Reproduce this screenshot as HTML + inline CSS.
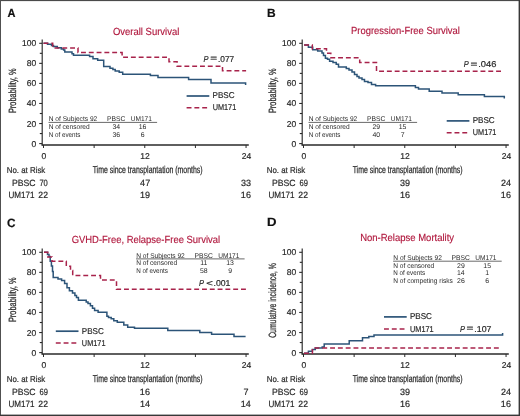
<!DOCTYPE html><html><head><meta charset="utf-8"><style>html,body{margin:0;padding:0;background:#fff}svg{display:block;filter:blur(0.3px)}text{font-family:"Liberation Sans",sans-serif;text-rendering:geometricPrecision}</style></head><body><svg width="520" height="416" viewBox="0 0 520 416" font-family="Liberation Sans, sans-serif">
<rect x="0" y="0" width="520" height="416" fill="#fff"/>
<text transform="translate(7.42 17.40) scale(0.9204 1)" font-size="12" fill="#111" font-weight="bold" stroke="#111" stroke-width="0.2">A</text>
<line x1="42.20" y1="39.60" x2="42.20" y2="145.60" stroke="#2a2a2a" stroke-width="1.15"/>
<line x1="41.60" y1="145.00" x2="248.80" y2="145.00" stroke="#2a2a2a" stroke-width="1.6"/>
<line x1="39.20" y1="143.60" x2="42.20" y2="143.60" stroke="#2a2a2a" stroke-width="1.1"/>
<line x1="39.80" y1="133.57" x2="42.20" y2="133.57" stroke="#2a2a2a" stroke-width="1.1"/>
<line x1="39.20" y1="123.54" x2="42.20" y2="123.54" stroke="#2a2a2a" stroke-width="1.1"/>
<line x1="39.80" y1="113.51" x2="42.20" y2="113.51" stroke="#2a2a2a" stroke-width="1.1"/>
<line x1="39.20" y1="103.48" x2="42.20" y2="103.48" stroke="#2a2a2a" stroke-width="1.1"/>
<line x1="39.80" y1="93.45" x2="42.20" y2="93.45" stroke="#2a2a2a" stroke-width="1.1"/>
<line x1="39.20" y1="83.42" x2="42.20" y2="83.42" stroke="#2a2a2a" stroke-width="1.1"/>
<line x1="39.80" y1="73.39" x2="42.20" y2="73.39" stroke="#2a2a2a" stroke-width="1.1"/>
<line x1="39.20" y1="63.36" x2="42.20" y2="63.36" stroke="#2a2a2a" stroke-width="1.1"/>
<line x1="39.80" y1="53.33" x2="42.20" y2="53.33" stroke="#2a2a2a" stroke-width="1.1"/>
<line x1="39.20" y1="43.30" x2="42.20" y2="43.30" stroke="#2a2a2a" stroke-width="1.1"/>
<line x1="43.50" y1="145.00" x2="43.50" y2="148.00" stroke="#2a2a2a" stroke-width="1.0"/>
<line x1="94.14" y1="145.00" x2="94.14" y2="148.00" stroke="#2a2a2a" stroke-width="1.0"/>
<line x1="144.78" y1="145.00" x2="144.78" y2="148.00" stroke="#2a2a2a" stroke-width="1.0"/>
<line x1="195.42" y1="145.00" x2="195.42" y2="148.00" stroke="#2a2a2a" stroke-width="1.0"/>
<line x1="246.06" y1="145.00" x2="246.06" y2="148.00" stroke="#2a2a2a" stroke-width="1.0"/>
<text transform="translate(31.42 146.60) scale(1.0000 1)" font-size="8.5" fill="#2a2a2a" stroke="#2a2a2a" stroke-width="0.2">0</text>
<text transform="translate(26.70 126.54) scale(1.0000 1)" font-size="8.5" fill="#2a2a2a" stroke="#2a2a2a" stroke-width="0.2">20</text>
<text transform="translate(26.70 106.48) scale(1.0000 1)" font-size="8.5" fill="#2a2a2a" stroke="#2a2a2a" stroke-width="0.2">40</text>
<text transform="translate(26.70 86.42) scale(1.0000 1)" font-size="8.5" fill="#2a2a2a" stroke="#2a2a2a" stroke-width="0.2">60</text>
<text transform="translate(26.70 66.36) scale(1.0000 1)" font-size="8.5" fill="#2a2a2a" stroke="#2a2a2a" stroke-width="0.2">80</text>
<text transform="translate(21.99 46.30) scale(1.0000 1)" font-size="8.5" fill="#2a2a2a" stroke="#2a2a2a" stroke-width="0.2">100</text>
<text transform="translate(41.54 158.60) scale(1.0000 1)" font-size="8.5" fill="#2a2a2a" stroke="#2a2a2a" stroke-width="0.2">0</text>
<text transform="translate(140.36 158.60) scale(1.0000 1)" font-size="8.5" fill="#2a2a2a" stroke="#2a2a2a" stroke-width="0.2">12</text>
<text transform="translate(241.66 158.60) scale(1.0000 1)" font-size="8.5" fill="#2a2a2a" stroke="#2a2a2a" stroke-width="0.2">24</text>
<text transform="translate(92.63 172.80) scale(0.6937 1)" font-size="10" fill="#2a2a2a" stroke="#2a2a2a" stroke-width="0.25">Time since transplantation (months)</text>
<text transform="translate(6.77 173.00) scale(0.9270 1)" font-size="8.5" fill="#2a2a2a" stroke="#2a2a2a" stroke-width="0.2">No. at Risk</text>
<text transform="translate(15.60 113.09) rotate(-90) scale(0.7040 1)" font-size="10.5" fill="#2a2a2a" stroke="#2a2a2a" stroke-width="0.25">Probability, %</text>
<text transform="translate(112.97 34.50) scale(0.9201 1)" font-size="10.3" fill="#b0173d" stroke="#b0173d" stroke-width="0.15">Overall Survival</text>
<text transform="translate(11.90 185.60) scale(0.9658 1)" font-size="9" fill="#2a2a2a" stroke="#2a2a2a" stroke-width="0.2">PBSC</text>
<text transform="translate(39.42 185.60) scale(0.8388 1)" font-size="9" fill="#2a2a2a" stroke="#2a2a2a" stroke-width="0.2">70</text>
<text transform="translate(8.49 198.00) scale(0.8996 1)" font-size="9" fill="#2a2a2a" stroke="#2a2a2a" stroke-width="0.2">UM171</text>
<text transform="translate(38.37 198.00) scale(0.9571 1)" font-size="9" fill="#2a2a2a" stroke="#2a2a2a" stroke-width="0.2">22</text>
<text transform="translate(140.12 185.60) scale(1.0000 1)" font-size="9" fill="#2a2a2a" stroke="#2a2a2a" stroke-width="0.2">47</text>
<text transform="translate(140.07 198.00) scale(1.0000 1)" font-size="9" fill="#2a2a2a" stroke="#2a2a2a" stroke-width="0.2">19</text>
<text transform="translate(241.03 185.60) scale(1.0000 1)" font-size="9" fill="#2a2a2a" stroke="#2a2a2a" stroke-width="0.2">33</text>
<text transform="translate(240.87 198.00) scale(1.0000 1)" font-size="9" fill="#2a2a2a" stroke="#2a2a2a" stroke-width="0.2">16</text>
<line x1="186.60" y1="96.00" x2="209.30" y2="96.00" stroke="#2c5478" stroke-width="1.7"/>
<line x1="186.60" y1="107.70" x2="209.30" y2="107.70" stroke="#a8234b" stroke-width="1.5" stroke-dasharray="4.9 2.9"/>
<text transform="translate(212.55 98.30) scale(0.9502 1)" font-size="8.5" fill="#2a2a2a" stroke="#2a2a2a" stroke-width="0.2">PBSC</text>
<text transform="translate(212.65 110.10) scale(0.8615 1)" font-size="8.5" fill="#2a2a2a" stroke="#2a2a2a" stroke-width="0.2">UM171</text>
<path d="M43.5,43.3 H47.5 V44.3 H51.5 V45.5 H53.5 V46.6 H57.3 V47.8 H61.3 V49.0 H63.6 V50.1 H64.8 V52.0 H72.0 V53.8 H73.5 V55.2 H89.6 V56.5 H93.0 V58.8 H97.7 V60.2 H103.7 V66.5 H110.0 V68.2 H112.9 V69.6 H115.2 V70.9 H119.2 V72.3 H122.7 V74.2 H150.4 V75.6 H158.0 V77.4 H188.6 V79.4 H211.0 V83.0 H245.6 H245.6 V85.0" fill="none" stroke="#2c5478" stroke-width="1.5"/>
<path d="M43.5,43.3 H52.7 V47.9 H78.0 V52.6 H122.1 V57.3 H169.0 V61.7 H177.1 V66.2 H222.5 V70.8 H246.1" fill="none" stroke="#a8234b" stroke-width="1.5" stroke-dasharray="4.9 2.9"/>
<text transform="translate(203.58 61.60) scale(0.8777 1)" font-size="8.5" fill="#2a2a2a" font-style="italic" stroke="#2a2a2a" stroke-width="0.2">P</text>
<text transform="translate(210.21 61.30) scale(1.3827 1)" font-size="8.5" fill="#2a2a2a" stroke="#2a2a2a" stroke-width="0.2">=</text>
<text transform="translate(218.05 61.60) scale(0.9777 1)" font-size="8.5" fill="#2a2a2a" stroke="#2a2a2a" stroke-width="0.2">.077</text>
<text transform="translate(48.67 121.00) scale(0.9615 1)" font-size="6.9" fill="#2a2a2a">N of Subjects 92</text>
<text transform="translate(106.96 121.00) scale(0.9810 1)" font-size="6.9" fill="#2a2a2a">PBSC</text>
<text transform="translate(130.71 121.00) scale(0.9537 1)" font-size="6.9" fill="#2a2a2a">UM171</text>
<line x1="48.50" y1="122.40" x2="157.10" y2="122.40" stroke="#2a2a2a" stroke-width="0.7"/>
<text transform="translate(48.67 128.80) scale(0.9559 1)" font-size="6.9" fill="#2a2a2a">N of censored</text>
<text transform="translate(112.44 128.80) scale(1.0000 1)" font-size="6.9" fill="#2a2a2a">34</text>
<text transform="translate(138.77 128.80) scale(1.0000 1)" font-size="6.9" fill="#2a2a2a">16</text>
<text transform="translate(48.70 136.60) scale(0.9115 1)" font-size="6.9" fill="#2a2a2a">N of events</text>
<text transform="translate(112.49 136.60) scale(1.0000 1)" font-size="6.9" fill="#2a2a2a">36</text>
<text transform="translate(140.77 136.60) scale(1.0000 1)" font-size="6.9" fill="#2a2a2a">6</text>
<text transform="translate(267.12 17.40) scale(0.9973 1)" font-size="12" fill="#111" font-weight="bold" stroke="#111" stroke-width="0.2">B</text>
<line x1="302.20" y1="39.60" x2="302.20" y2="145.60" stroke="#2a2a2a" stroke-width="1.15"/>
<line x1="301.60" y1="145.00" x2="508.80" y2="145.00" stroke="#2a2a2a" stroke-width="1.6"/>
<line x1="299.20" y1="143.60" x2="302.20" y2="143.60" stroke="#2a2a2a" stroke-width="1.1"/>
<line x1="299.80" y1="133.57" x2="302.20" y2="133.57" stroke="#2a2a2a" stroke-width="1.1"/>
<line x1="299.20" y1="123.54" x2="302.20" y2="123.54" stroke="#2a2a2a" stroke-width="1.1"/>
<line x1="299.80" y1="113.51" x2="302.20" y2="113.51" stroke="#2a2a2a" stroke-width="1.1"/>
<line x1="299.20" y1="103.48" x2="302.20" y2="103.48" stroke="#2a2a2a" stroke-width="1.1"/>
<line x1="299.80" y1="93.45" x2="302.20" y2="93.45" stroke="#2a2a2a" stroke-width="1.1"/>
<line x1="299.20" y1="83.42" x2="302.20" y2="83.42" stroke="#2a2a2a" stroke-width="1.1"/>
<line x1="299.80" y1="73.39" x2="302.20" y2="73.39" stroke="#2a2a2a" stroke-width="1.1"/>
<line x1="299.20" y1="63.36" x2="302.20" y2="63.36" stroke="#2a2a2a" stroke-width="1.1"/>
<line x1="299.80" y1="53.33" x2="302.20" y2="53.33" stroke="#2a2a2a" stroke-width="1.1"/>
<line x1="299.20" y1="43.30" x2="302.20" y2="43.30" stroke="#2a2a2a" stroke-width="1.1"/>
<line x1="303.50" y1="145.00" x2="303.50" y2="148.00" stroke="#2a2a2a" stroke-width="1.0"/>
<line x1="354.14" y1="145.00" x2="354.14" y2="148.00" stroke="#2a2a2a" stroke-width="1.0"/>
<line x1="404.78" y1="145.00" x2="404.78" y2="148.00" stroke="#2a2a2a" stroke-width="1.0"/>
<line x1="455.42" y1="145.00" x2="455.42" y2="148.00" stroke="#2a2a2a" stroke-width="1.0"/>
<line x1="506.06" y1="145.00" x2="506.06" y2="148.00" stroke="#2a2a2a" stroke-width="1.0"/>
<text transform="translate(291.42 146.60) scale(1.0000 1)" font-size="8.5" fill="#2a2a2a" stroke="#2a2a2a" stroke-width="0.2">0</text>
<text transform="translate(286.70 126.54) scale(1.0000 1)" font-size="8.5" fill="#2a2a2a" stroke="#2a2a2a" stroke-width="0.2">20</text>
<text transform="translate(286.71 106.48) scale(1.0000 1)" font-size="8.5" fill="#2a2a2a" stroke="#2a2a2a" stroke-width="0.2">40</text>
<text transform="translate(286.70 86.42) scale(1.0000 1)" font-size="8.5" fill="#2a2a2a" stroke="#2a2a2a" stroke-width="0.2">60</text>
<text transform="translate(286.71 66.36) scale(1.0000 1)" font-size="8.5" fill="#2a2a2a" stroke="#2a2a2a" stroke-width="0.2">80</text>
<text transform="translate(281.99 46.30) scale(1.0000 1)" font-size="8.5" fill="#2a2a2a" stroke="#2a2a2a" stroke-width="0.2">100</text>
<text transform="translate(301.54 158.60) scale(1.0000 1)" font-size="8.5" fill="#2a2a2a" stroke="#2a2a2a" stroke-width="0.2">0</text>
<text transform="translate(400.36 158.60) scale(1.0000 1)" font-size="8.5" fill="#2a2a2a" stroke="#2a2a2a" stroke-width="0.2">12</text>
<text transform="translate(501.66 158.60) scale(1.0000 1)" font-size="8.5" fill="#2a2a2a" stroke="#2a2a2a" stroke-width="0.2">24</text>
<text transform="translate(352.63 172.80) scale(0.6937 1)" font-size="10" fill="#2a2a2a" stroke="#2a2a2a" stroke-width="0.25">Time since transplantation (months)</text>
<text transform="translate(266.77 173.00) scale(0.9270 1)" font-size="8.5" fill="#2a2a2a" stroke="#2a2a2a" stroke-width="0.2">No. at Risk</text>
<text transform="translate(275.60 113.09) rotate(-90) scale(0.7040 1)" font-size="10.5" fill="#2a2a2a" stroke="#2a2a2a" stroke-width="0.25">Probability, %</text>
<text transform="translate(351.05 34.40) scale(0.9143 1)" font-size="10.3" fill="#b0173d" stroke="#b0173d" stroke-width="0.15">Progression-Free Survival</text>
<text transform="translate(271.90 185.60) scale(0.9658 1)" font-size="9" fill="#2a2a2a" stroke="#2a2a2a" stroke-width="0.2">PBSC</text>
<text transform="translate(299.42 185.60) scale(0.8429 1)" font-size="9" fill="#2a2a2a" stroke="#2a2a2a" stroke-width="0.2">69</text>
<text transform="translate(268.49 198.00) scale(0.8996 1)" font-size="9" fill="#2a2a2a" stroke="#2a2a2a" stroke-width="0.2">UM171</text>
<text transform="translate(298.37 198.00) scale(0.9571 1)" font-size="9" fill="#2a2a2a" stroke="#2a2a2a" stroke-width="0.2">22</text>
<text transform="translate(400.03 185.60) scale(1.0000 1)" font-size="9" fill="#2a2a2a" stroke="#2a2a2a" stroke-width="0.2">39</text>
<text transform="translate(400.07 198.00) scale(1.0000 1)" font-size="9" fill="#2a2a2a" stroke="#2a2a2a" stroke-width="0.2">16</text>
<text transform="translate(500.92 185.60) scale(1.0000 1)" font-size="9" fill="#2a2a2a" stroke="#2a2a2a" stroke-width="0.2">24</text>
<text transform="translate(500.87 198.00) scale(1.0000 1)" font-size="9" fill="#2a2a2a" stroke="#2a2a2a" stroke-width="0.2">16</text>
<line x1="446.70" y1="120.90" x2="469.40" y2="120.90" stroke="#2c5478" stroke-width="1.7"/>
<line x1="446.70" y1="132.80" x2="469.40" y2="132.80" stroke="#a8234b" stroke-width="1.5" stroke-dasharray="4.9 2.9"/>
<text transform="translate(472.65 123.20) scale(0.9502 1)" font-size="8.5" fill="#2a2a2a" stroke="#2a2a2a" stroke-width="0.2">PBSC</text>
<text transform="translate(472.75 135.20) scale(0.8615 1)" font-size="8.5" fill="#2a2a2a" stroke="#2a2a2a" stroke-width="0.2">UM171</text>
<path d="M304.1,44.9 H308.4 V47.2 H312.7 V49.8 H317.7 V51.1 H322.0 V53.0 H323.5 V55.5 H325.4 V58.2 H327.5 V59.3 H329.6 V61.3 H333.0 V62.5 H336.2 V64.2 H338.5 V67.0 H346.3 V68.6 H349.0 V70.0 H352.0 V72.0 H354.5 V74.5 H357.0 V76.5 H359.0 V78.0 H362.0 V79.5 H364.5 V81.5 H368.0 V82.5 H371.5 V84.5 H375.6 V85.8 H415.4 V87.5 H418.5 V88.9 H429.2 V91.3 H442.0 V93.0 H458.2 V94.8 H484.4 V96.4 H504.3 H504.3 V98.6" fill="none" stroke="#2c5478" stroke-width="1.5"/>
<path d="M304.1,44.9 H312.3 V48.7 H326.5 V53.2 H330.8 V57.7 H359.7 V62.4 H376.5 V71.3 H503.9" fill="none" stroke="#a8234b" stroke-width="1.5" stroke-dasharray="4.9 2.9"/>
<text transform="translate(463.78 67.00) scale(0.8777 1)" font-size="8.5" fill="#2a2a2a" font-style="italic" stroke="#2a2a2a" stroke-width="0.2">P</text>
<text transform="translate(470.41 66.70) scale(1.3827 1)" font-size="8.5" fill="#2a2a2a" stroke="#2a2a2a" stroke-width="0.2">=</text>
<text transform="translate(478.16 67.00) scale(1.0985 1)" font-size="8.5" fill="#2a2a2a" stroke="#2a2a2a" stroke-width="0.2">.046</text>
<text transform="translate(308.67 121.00) scale(0.9615 1)" font-size="6.9" fill="#2a2a2a">N of Subjects 92</text>
<text transform="translate(366.96 121.00) scale(0.9810 1)" font-size="6.9" fill="#2a2a2a">PBSC</text>
<text transform="translate(390.71 121.00) scale(0.9537 1)" font-size="6.9" fill="#2a2a2a">UM171</text>
<line x1="308.50" y1="122.40" x2="417.10" y2="122.40" stroke="#2a2a2a" stroke-width="0.7"/>
<text transform="translate(308.67 128.80) scale(0.9559 1)" font-size="6.9" fill="#2a2a2a">N of censored</text>
<text transform="translate(372.45 128.80) scale(1.0000 1)" font-size="6.9" fill="#2a2a2a">29</text>
<text transform="translate(398.75 128.80) scale(1.0000 1)" font-size="6.9" fill="#2a2a2a">15</text>
<text transform="translate(308.70 136.60) scale(0.9115 1)" font-size="6.9" fill="#2a2a2a">N of events</text>
<text transform="translate(372.52 136.60) scale(1.0000 1)" font-size="6.9" fill="#2a2a2a">40</text>
<text transform="translate(400.79 136.60) scale(1.0000 1)" font-size="6.9" fill="#2a2a2a">7</text>
<text transform="translate(7.03 226.60) scale(0.9796 1)" font-size="12" fill="#111" font-weight="bold" stroke="#111" stroke-width="0.2">C</text>
<line x1="42.20" y1="248.60" x2="42.20" y2="354.60" stroke="#2a2a2a" stroke-width="1.15"/>
<line x1="41.60" y1="354.00" x2="248.80" y2="354.00" stroke="#2a2a2a" stroke-width="1.6"/>
<line x1="39.20" y1="352.60" x2="42.20" y2="352.60" stroke="#2a2a2a" stroke-width="1.1"/>
<line x1="39.80" y1="342.57" x2="42.20" y2="342.57" stroke="#2a2a2a" stroke-width="1.1"/>
<line x1="39.20" y1="332.54" x2="42.20" y2="332.54" stroke="#2a2a2a" stroke-width="1.1"/>
<line x1="39.80" y1="322.51" x2="42.20" y2="322.51" stroke="#2a2a2a" stroke-width="1.1"/>
<line x1="39.20" y1="312.48" x2="42.20" y2="312.48" stroke="#2a2a2a" stroke-width="1.1"/>
<line x1="39.80" y1="302.45" x2="42.20" y2="302.45" stroke="#2a2a2a" stroke-width="1.1"/>
<line x1="39.20" y1="292.42" x2="42.20" y2="292.42" stroke="#2a2a2a" stroke-width="1.1"/>
<line x1="39.80" y1="282.39" x2="42.20" y2="282.39" stroke="#2a2a2a" stroke-width="1.1"/>
<line x1="39.20" y1="272.36" x2="42.20" y2="272.36" stroke="#2a2a2a" stroke-width="1.1"/>
<line x1="39.80" y1="262.33" x2="42.20" y2="262.33" stroke="#2a2a2a" stroke-width="1.1"/>
<line x1="39.20" y1="252.30" x2="42.20" y2="252.30" stroke="#2a2a2a" stroke-width="1.1"/>
<line x1="43.50" y1="354.00" x2="43.50" y2="357.00" stroke="#2a2a2a" stroke-width="1.0"/>
<line x1="94.14" y1="354.00" x2="94.14" y2="357.00" stroke="#2a2a2a" stroke-width="1.0"/>
<line x1="144.78" y1="354.00" x2="144.78" y2="357.00" stroke="#2a2a2a" stroke-width="1.0"/>
<line x1="195.42" y1="354.00" x2="195.42" y2="357.00" stroke="#2a2a2a" stroke-width="1.0"/>
<line x1="246.06" y1="354.00" x2="246.06" y2="357.00" stroke="#2a2a2a" stroke-width="1.0"/>
<text transform="translate(31.42 355.60) scale(1.0000 1)" font-size="8.5" fill="#2a2a2a" stroke="#2a2a2a" stroke-width="0.2">0</text>
<text transform="translate(26.70 335.54) scale(1.0000 1)" font-size="8.5" fill="#2a2a2a" stroke="#2a2a2a" stroke-width="0.2">20</text>
<text transform="translate(26.70 315.48) scale(1.0000 1)" font-size="8.5" fill="#2a2a2a" stroke="#2a2a2a" stroke-width="0.2">40</text>
<text transform="translate(26.70 295.42) scale(1.0000 1)" font-size="8.5" fill="#2a2a2a" stroke="#2a2a2a" stroke-width="0.2">60</text>
<text transform="translate(26.70 275.36) scale(1.0000 1)" font-size="8.5" fill="#2a2a2a" stroke="#2a2a2a" stroke-width="0.2">80</text>
<text transform="translate(21.99 255.30) scale(1.0000 1)" font-size="8.5" fill="#2a2a2a" stroke="#2a2a2a" stroke-width="0.2">100</text>
<text transform="translate(41.54 367.60) scale(1.0000 1)" font-size="8.5" fill="#2a2a2a" stroke="#2a2a2a" stroke-width="0.2">0</text>
<text transform="translate(140.36 367.60) scale(1.0000 1)" font-size="8.5" fill="#2a2a2a" stroke="#2a2a2a" stroke-width="0.2">12</text>
<text transform="translate(241.66 367.60) scale(1.0000 1)" font-size="8.5" fill="#2a2a2a" stroke="#2a2a2a" stroke-width="0.2">24</text>
<text transform="translate(92.63 381.80) scale(0.6937 1)" font-size="10" fill="#2a2a2a" stroke="#2a2a2a" stroke-width="0.25">Time since transplantation (months)</text>
<text transform="translate(6.77 382.00) scale(0.9270 1)" font-size="8.5" fill="#2a2a2a" stroke="#2a2a2a" stroke-width="0.2">No. at Risk</text>
<text transform="translate(15.60 322.09) rotate(-90) scale(0.7040 1)" font-size="10.5" fill="#2a2a2a" stroke="#2a2a2a" stroke-width="0.25">Probability, %</text>
<text transform="translate(71.63 242.90) scale(0.9168 1)" font-size="10.3" fill="#b0173d" stroke="#b0173d" stroke-width="0.15">GVHD-Free, Relapse-Free Survival</text>
<text transform="translate(11.90 394.60) scale(0.9658 1)" font-size="9" fill="#2a2a2a" stroke="#2a2a2a" stroke-width="0.2">PBSC</text>
<text transform="translate(39.42 394.60) scale(0.8429 1)" font-size="9" fill="#2a2a2a" stroke="#2a2a2a" stroke-width="0.2">69</text>
<text transform="translate(8.49 407.00) scale(0.8996 1)" font-size="9" fill="#2a2a2a" stroke="#2a2a2a" stroke-width="0.2">UM171</text>
<text transform="translate(38.37 407.00) scale(0.9571 1)" font-size="9" fill="#2a2a2a" stroke="#2a2a2a" stroke-width="0.2">22</text>
<text transform="translate(139.87 394.60) scale(1.0000 1)" font-size="9" fill="#2a2a2a" stroke="#2a2a2a" stroke-width="0.2">16</text>
<text transform="translate(140.00 407.00) scale(1.0000 1)" font-size="9" fill="#2a2a2a" stroke="#2a2a2a" stroke-width="0.2">14</text>
<text transform="translate(243.50 394.60) scale(1.0000 1)" font-size="9" fill="#2a2a2a" stroke="#2a2a2a" stroke-width="0.2">7</text>
<text transform="translate(240.80 407.00) scale(1.0000 1)" font-size="9" fill="#2a2a2a" stroke="#2a2a2a" stroke-width="0.2">14</text>
<line x1="55.80" y1="331.20" x2="78.50" y2="331.20" stroke="#2c5478" stroke-width="1.7"/>
<line x1="55.80" y1="343.10" x2="78.50" y2="343.10" stroke="#a8234b" stroke-width="1.5" stroke-dasharray="4.9 2.9"/>
<text transform="translate(81.75 333.50) scale(0.9502 1)" font-size="8.5" fill="#2a2a2a" stroke="#2a2a2a" stroke-width="0.2">PBSC</text>
<text transform="translate(81.85 345.50) scale(0.8615 1)" font-size="8.5" fill="#2a2a2a" stroke="#2a2a2a" stroke-width="0.2">UM171</text>
<path d="M44.0,252.3 H46.0 H47.5 V254.5 H49.0 V256.4 H50.2 V261.2 H51.4 V266.0 H52.5 V271.4 H53.2 V277.4 H58.0 V279.0 H61.6 V280.5 H64.6 V283.5 H67.0 V287.7 H69.4 V290.7 H72.5 V293.0 H74.9 V295.5 H76.5 V297.5 H78.4 V300.2 H86.2 V302.0 H88.0 V303.5 H90.4 V305.8 H92.5 V308.3 H94.6 V310.4 H98.1 V312.3 H106.9 V316.2 H108.5 V317.5 H111.2 V318.8 H113.8 V320.8 H117.3 V322.3 H123.8 V325.0 H127.7 V327.3 H134.5 V328.3 H167.8 V330.4 H199.8 V332.5 H211.6 V334.2 H234.0 V336.5 H245.6" fill="none" stroke="#2c5478" stroke-width="1.5"/>
<path d="M44.0,252.3 H47.8 V256.9 H52.0 V261.3 H66.3 V266.2 H70.5 V270.5 H72.7 V275.4 H100.5 V280.1 H116.5 V289.3 H246.0" fill="none" stroke="#a8234b" stroke-width="1.5" stroke-dasharray="4.9 2.9"/>
<text transform="translate(199.08 285.60) scale(0.8777 1)" font-size="8.5" fill="#2a2a2a" font-style="italic" stroke="#2a2a2a" stroke-width="0.2">P</text>
<text transform="translate(206.13 285.60) scale(1.3341 1)" font-size="8.5" fill="#2a2a2a" stroke="#2a2a2a" stroke-width="0.2">&lt;</text>
<text transform="translate(213.52 285.60) scale(1.0233 1)" font-size="8.5" fill="#2a2a2a" stroke="#2a2a2a" stroke-width="0.2">.001</text>
<text transform="translate(136.17 257.50) scale(0.9615 1)" font-size="6.9" fill="#2a2a2a">N of Subjects 92</text>
<text transform="translate(194.46 257.50) scale(0.9810 1)" font-size="6.9" fill="#2a2a2a">PBSC</text>
<text transform="translate(218.21 257.50) scale(0.9537 1)" font-size="6.9" fill="#2a2a2a">UM171</text>
<line x1="136.00" y1="258.90" x2="244.60" y2="258.90" stroke="#2a2a2a" stroke-width="0.7"/>
<text transform="translate(136.17 265.30) scale(0.9559 1)" font-size="6.9" fill="#2a2a2a">N of censored</text>
<text transform="translate(200.14 265.30) scale(1.0000 1)" font-size="6.9" fill="#2a2a2a">11</text>
<text transform="translate(226.27 265.30) scale(1.0000 1)" font-size="6.9" fill="#2a2a2a">13</text>
<text transform="translate(136.20 273.10) scale(0.9115 1)" font-size="6.9" fill="#2a2a2a">N of events</text>
<text transform="translate(199.97 273.10) scale(1.0000 1)" font-size="6.9" fill="#2a2a2a">58</text>
<text transform="translate(228.29 273.10) scale(1.0000 1)" font-size="6.9" fill="#2a2a2a">9</text>
<text transform="translate(267.04 226.40) scale(1.0976 1)" font-size="12" fill="#111" font-weight="bold" stroke="#111" stroke-width="0.2">D</text>
<line x1="302.20" y1="248.60" x2="302.20" y2="354.60" stroke="#2a2a2a" stroke-width="1.15"/>
<line x1="301.60" y1="354.00" x2="508.80" y2="354.00" stroke="#2a2a2a" stroke-width="1.6"/>
<line x1="299.20" y1="352.60" x2="302.20" y2="352.60" stroke="#2a2a2a" stroke-width="1.1"/>
<line x1="299.80" y1="342.57" x2="302.20" y2="342.57" stroke="#2a2a2a" stroke-width="1.1"/>
<line x1="299.20" y1="332.54" x2="302.20" y2="332.54" stroke="#2a2a2a" stroke-width="1.1"/>
<line x1="299.80" y1="322.51" x2="302.20" y2="322.51" stroke="#2a2a2a" stroke-width="1.1"/>
<line x1="299.20" y1="312.48" x2="302.20" y2="312.48" stroke="#2a2a2a" stroke-width="1.1"/>
<line x1="299.80" y1="302.45" x2="302.20" y2="302.45" stroke="#2a2a2a" stroke-width="1.1"/>
<line x1="299.20" y1="292.42" x2="302.20" y2="292.42" stroke="#2a2a2a" stroke-width="1.1"/>
<line x1="299.80" y1="282.39" x2="302.20" y2="282.39" stroke="#2a2a2a" stroke-width="1.1"/>
<line x1="299.20" y1="272.36" x2="302.20" y2="272.36" stroke="#2a2a2a" stroke-width="1.1"/>
<line x1="299.80" y1="262.33" x2="302.20" y2="262.33" stroke="#2a2a2a" stroke-width="1.1"/>
<line x1="299.20" y1="252.30" x2="302.20" y2="252.30" stroke="#2a2a2a" stroke-width="1.1"/>
<line x1="303.50" y1="354.00" x2="303.50" y2="357.00" stroke="#2a2a2a" stroke-width="1.0"/>
<line x1="354.14" y1="354.00" x2="354.14" y2="357.00" stroke="#2a2a2a" stroke-width="1.0"/>
<line x1="404.78" y1="354.00" x2="404.78" y2="357.00" stroke="#2a2a2a" stroke-width="1.0"/>
<line x1="455.42" y1="354.00" x2="455.42" y2="357.00" stroke="#2a2a2a" stroke-width="1.0"/>
<line x1="506.06" y1="354.00" x2="506.06" y2="357.00" stroke="#2a2a2a" stroke-width="1.0"/>
<text transform="translate(291.42 355.60) scale(1.0000 1)" font-size="8.5" fill="#2a2a2a" stroke="#2a2a2a" stroke-width="0.2">0</text>
<text transform="translate(286.70 335.54) scale(1.0000 1)" font-size="8.5" fill="#2a2a2a" stroke="#2a2a2a" stroke-width="0.2">20</text>
<text transform="translate(286.71 315.48) scale(1.0000 1)" font-size="8.5" fill="#2a2a2a" stroke="#2a2a2a" stroke-width="0.2">40</text>
<text transform="translate(286.70 295.42) scale(1.0000 1)" font-size="8.5" fill="#2a2a2a" stroke="#2a2a2a" stroke-width="0.2">60</text>
<text transform="translate(286.71 275.36) scale(1.0000 1)" font-size="8.5" fill="#2a2a2a" stroke="#2a2a2a" stroke-width="0.2">80</text>
<text transform="translate(281.99 255.30) scale(1.0000 1)" font-size="8.5" fill="#2a2a2a" stroke="#2a2a2a" stroke-width="0.2">100</text>
<text transform="translate(301.54 367.60) scale(1.0000 1)" font-size="8.5" fill="#2a2a2a" stroke="#2a2a2a" stroke-width="0.2">0</text>
<text transform="translate(400.36 367.60) scale(1.0000 1)" font-size="8.5" fill="#2a2a2a" stroke="#2a2a2a" stroke-width="0.2">12</text>
<text transform="translate(501.66 367.60) scale(1.0000 1)" font-size="8.5" fill="#2a2a2a" stroke="#2a2a2a" stroke-width="0.2">24</text>
<text transform="translate(352.63 381.80) scale(0.6937 1)" font-size="10" fill="#2a2a2a" stroke="#2a2a2a" stroke-width="0.25">Time since transplantation (months)</text>
<text transform="translate(266.77 382.00) scale(0.9270 1)" font-size="8.5" fill="#2a2a2a" stroke="#2a2a2a" stroke-width="0.2">No. at Risk</text>
<text transform="translate(275.60 337.84) rotate(-90) scale(0.6504 1)" font-size="10.5" fill="#2a2a2a" stroke="#2a2a2a" stroke-width="0.25">Cumulative incidence, %</text>
<text transform="translate(360.14 241.20) scale(0.9224 1)" font-size="10.3" fill="#b0173d" stroke="#b0173d" stroke-width="0.15">Non-Relapse Mortality</text>
<text transform="translate(271.90 394.60) scale(0.9658 1)" font-size="9" fill="#2a2a2a" stroke="#2a2a2a" stroke-width="0.2">PBSC</text>
<text transform="translate(299.42 394.60) scale(0.8429 1)" font-size="9" fill="#2a2a2a" stroke="#2a2a2a" stroke-width="0.2">69</text>
<text transform="translate(268.49 407.00) scale(0.8996 1)" font-size="9" fill="#2a2a2a" stroke="#2a2a2a" stroke-width="0.2">UM171</text>
<text transform="translate(298.37 407.00) scale(0.9571 1)" font-size="9" fill="#2a2a2a" stroke="#2a2a2a" stroke-width="0.2">22</text>
<text transform="translate(400.03 394.60) scale(1.0000 1)" font-size="9" fill="#2a2a2a" stroke="#2a2a2a" stroke-width="0.2">39</text>
<text transform="translate(400.07 407.00) scale(1.0000 1)" font-size="9" fill="#2a2a2a" stroke="#2a2a2a" stroke-width="0.2">16</text>
<text transform="translate(500.92 394.60) scale(1.0000 1)" font-size="9" fill="#2a2a2a" stroke="#2a2a2a" stroke-width="0.2">24</text>
<text transform="translate(500.87 407.00) scale(1.0000 1)" font-size="9" fill="#2a2a2a" stroke="#2a2a2a" stroke-width="0.2">16</text>
<line x1="384.00" y1="316.90" x2="406.70" y2="316.90" stroke="#2c5478" stroke-width="1.7"/>
<line x1="384.00" y1="329.10" x2="406.70" y2="329.10" stroke="#a8234b" stroke-width="1.5" stroke-dasharray="4.9 2.9"/>
<text transform="translate(409.95 319.20) scale(0.9502 1)" font-size="8.5" fill="#2a2a2a" stroke="#2a2a2a" stroke-width="0.2">PBSC</text>
<text transform="translate(410.05 331.50) scale(0.8615 1)" font-size="8.5" fill="#2a2a2a" stroke="#2a2a2a" stroke-width="0.2">UM171</text>
<path d="M304.0,353.2 H308.4 V351.3 H312.4 V349.6 H315.3 V348.1 H322.2 V347.0 H324.2 V344.1 H349.2 V340.8 H362.5 V337.8 H368.8 V336.4 H374.0 V334.9 H502.6 H502.6 V333.0" fill="none" stroke="#2c5478" stroke-width="1.5"/>
<path d="M304.0,353.2 H312.4 V348.1 H501.0" fill="none" stroke="#a8234b" stroke-width="1.5" stroke-dasharray="4.9 2.9"/>
<text transform="translate(459.88 331.50) scale(0.8777 1)" font-size="8.5" fill="#2a2a2a" font-style="italic" stroke="#2a2a2a" stroke-width="0.2">P</text>
<text transform="translate(466.51 331.20) scale(1.3827 1)" font-size="8.5" fill="#2a2a2a" stroke="#2a2a2a" stroke-width="0.2">=</text>
<text transform="translate(474.31 331.50) scale(1.0363 1)" font-size="8.5" fill="#2a2a2a" stroke="#2a2a2a" stroke-width="0.2">.107</text>
<text transform="translate(393.27 259.80) scale(0.9615 1)" font-size="6.9" fill="#2a2a2a">N of Subjects 92</text>
<text transform="translate(451.56 259.80) scale(0.9810 1)" font-size="6.9" fill="#2a2a2a">PBSC</text>
<text transform="translate(475.31 259.80) scale(0.9537 1)" font-size="6.9" fill="#2a2a2a">UM171</text>
<line x1="393.10" y1="261.20" x2="501.70" y2="261.20" stroke="#2a2a2a" stroke-width="0.7"/>
<text transform="translate(393.27 267.60) scale(0.9559 1)" font-size="6.9" fill="#2a2a2a">N of censored</text>
<text transform="translate(457.05 267.60) scale(1.0000 1)" font-size="6.9" fill="#2a2a2a">29</text>
<text transform="translate(483.35 267.60) scale(1.0000 1)" font-size="6.9" fill="#2a2a2a">15</text>
<text transform="translate(393.30 275.40) scale(0.9115 1)" font-size="6.9" fill="#2a2a2a">N of events</text>
<text transform="translate(456.92 275.40) scale(1.0000 1)" font-size="6.9" fill="#2a2a2a">14</text>
<text transform="translate(485.30 275.40) scale(1.0000 1)" font-size="6.9" fill="#2a2a2a">1</text>
<text transform="translate(393.27 283.20) scale(0.9527 1)" font-size="6.9" fill="#2a2a2a">N of competing risks</text>
<text transform="translate(457.05 283.20) scale(1.0000 1)" font-size="6.9" fill="#2a2a2a">26</text>
<text transform="translate(485.37 283.20) scale(1.0000 1)" font-size="6.9" fill="#2a2a2a">6</text>
<rect x="0" y="0" width="520" height="1.1" fill="#4a4a4a"/>
<rect x="0" y="0" width="1.0" height="416" fill="#505050"/>
<rect x="518.6" y="0" width="1.4" height="416" fill="#383838"/>
<rect x="0" y="414.6" width="520" height="1.4" fill="#383838"/>
</svg></body></html>
